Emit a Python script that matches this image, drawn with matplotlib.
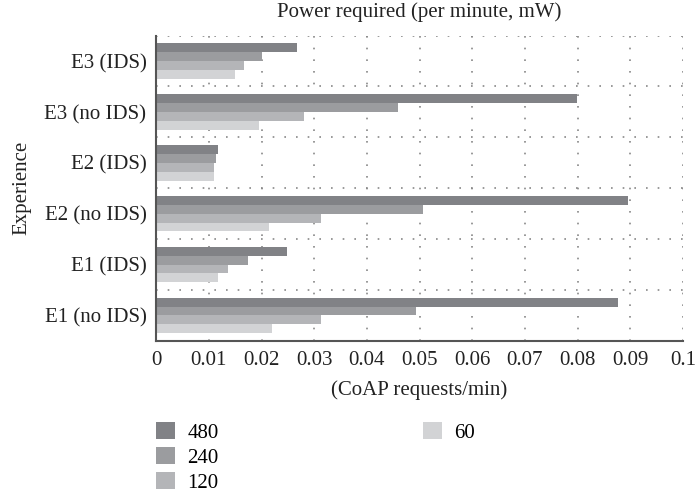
import numpy as np
import matplotlib.pyplot as plt
from matplotlib.patches import Patch

plt.rcParams['font.family'] = ['Liberation Serif', 'DejaVu Serif']

# Data (bottom to top on the y axis)
experiences = ['E1 (no IDS)', 'E1 (IDS)', 'E2 (no IDS)', 'E2 (IDS)', 'E3 (no IDS)', 'E3 (IDS)']
rates = ['480', '240', '120', '60']
power_480 = [0.0876, 0.0249, 0.0895, 0.01165, 0.0799, 0.0268]
power_240 = [0.0494, 0.0174, 0.0506, 0.0113, 0.0459, 0.0200]
power_120 = [0.0312, 0.0137, 0.0312, 0.0109, 0.0281, 0.0166]
power_60 = [0.0219, 0.0118, 0.0215, 0.0109, 0.0196, 0.0149]
colors = ['#818286', '#9b9c9f', '#b4b5b8', '#d2d3d5']

series = [power_480, power_240, power_120, power_60]
fs = 15
txt = '#222222'

fig = plt.figure(figsize=(6.97, 4.94), dpi=100)
ax = fig.add_axes([0.224, 0.31, 0.756, 0.618])

y = np.arange(len(experiences))
h = 0.175
for i, vals in enumerate(series):
    # 480 on top of each group, 60 at bottom
    ax.barh(y + (1.5 - i) * h, vals, height=h, color=colors[i], zorder=2)

ax.set_xlim(0, 0.1)
ax.set_ylim(-0.5, len(experiences) - 0.5)
ax.set_xticks(np.arange(0, 0.101, 0.01))
ax.set_xticklabels(['0', '0.01', '0.02', '0.03', '0.04', '0.05', '0.06',
                    '0.07', '0.08', '0.09', '0.1'])
ax.set_yticks(y)
ax.set_yticklabels(experiences)
ax.set_yticks(np.arange(-0.5, len(experiences), 1), minor=True)
ax.tick_params(axis='both', which='both', length=0, labelsize=fs, colors=txt)
ax.tick_params(axis='x', pad=7)
ax.tick_params(axis='y', pad=7)

ax.grid(axis='x', which='major', linestyle=(0, (1, 6)), color='#888888', lw=1.2, zorder=0)
ax.grid(axis='y', which='minor', linestyle=(0, (1, 6)), color='#888888', lw=1.2, zorder=0)

for s in ['top', 'right']:
    ax.spines[s].set_visible(False)
for s in ['left', 'bottom']:
    ax.spines[s].set_color('#555555')
    ax.spines[s].set_linewidth(1.5)

fig.text(0.601, 0.976, 'Power required (per minute, mW)', fontsize=fs,
         ha='center', va='center', color=txt)
ax.set_xlabel('(CoAP requests/min)', fontsize=fs, labelpad=8, color=txt)
ax.set_ylabel('Experience', fontsize=fs, color=txt)
ax.yaxis.set_label_coords(-0.237, 0.5)

handles = [Patch(facecolor=c, edgecolor='none') for c in colors]
leg_kw = dict(loc='upper left', frameon=False, fontsize=fs, handlelength=0.9,
              handleheight=0.9, labelspacing=0.2, handletextpad=0.6, borderaxespad=0,
              borderpad=0)
fig.legend(handles[:3], rates[:3], bbox_to_anchor=(0.224, 0.146), **leg_kw)
fig.legend(handles[3:], rates[3:], bbox_to_anchor=(0.607, 0.146), **leg_kw)

fig.savefig('out.png', dpi=100)
